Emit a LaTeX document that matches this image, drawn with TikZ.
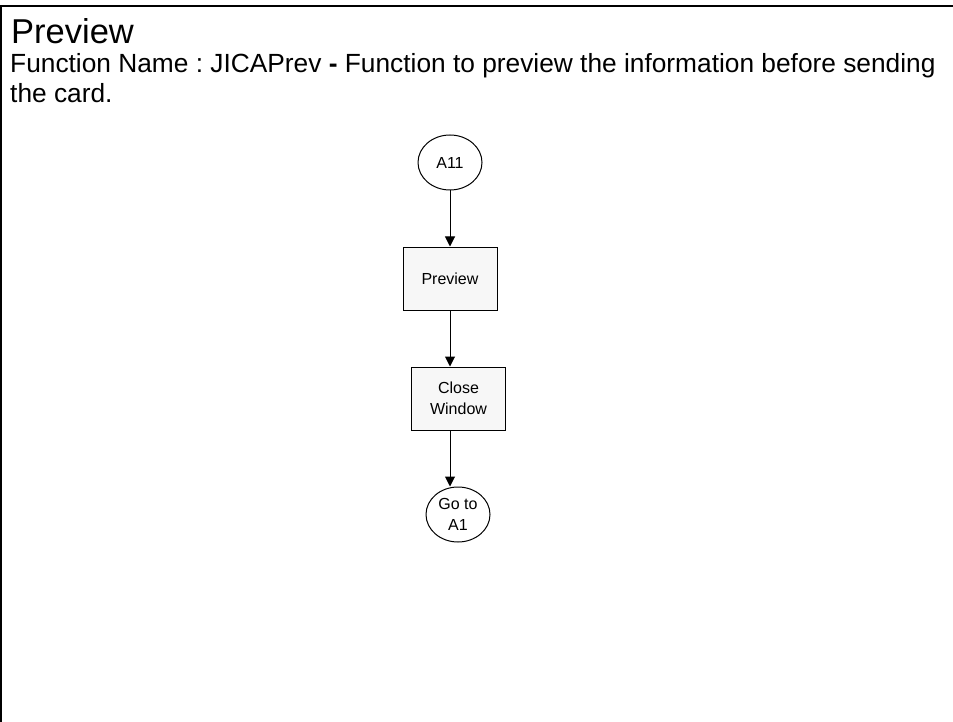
\documentclass[tikz,border=0pt]{standalone}
\usepackage{fontspec}
\setmainfont{Liberation Sans}
\usetikzlibrary{shapes.geometric,arrows.meta}
\definecolor{boxfill}{HTML}{F7F7F7}
\frenchspacing
\tikzset{
  flowarrow/.style={draw=black,line width=1pt,-{Triangle[length=10pt,width=10pt]}},
  termnode/.style={ellipse,draw=black,line width=1pt,fill=white,minimum width=64pt,minimum height=55pt,inner sep=0pt,align=center,font=\fontsize{16}{21}\selectfont},
  procbox/.style={rectangle,draw=black,line width=1pt,fill=boxfill,minimum width=94pt,minimum height=63pt,inner sep=0pt,align=center,font=\fontsize{16}{21}\selectfont},
  headtext/.style={anchor=base west,inner sep=0pt}
}
\begin{document}
\begin{tikzpicture}[x=1pt,y=-1pt]
\useasboundingbox (0,0) rectangle (953,722);
\draw[line width=2pt] (1,722) -- (1,6) -- (953,6);
\node[headtext,font=\fontsize{34.5}{40}\selectfont] (title) at (11,44) {Preview};
\node[headtext,font=\fontsize{26.3}{30}\selectfont] (desc1) at (10,73) {Function Name : JICAPrev \textbf{-} Function to preview the information before sending};
\node[headtext,font=\fontsize{26.3}{30}\selectfont] (desc2) at (10,103) {the card.};
\node[termnode] (a11) at (450,162.5) {A11};
\node[procbox] (prev) at (450,278.5) {Preview};
\node[procbox] (close) at (458.5,398.5) {Close\\Window};
\node[termnode] (goto) at (458,514.5) {Go to\\A1};
\draw[flowarrow] (a11) -- (prev);
\draw[flowarrow] (prev.south) -- (close.north -| prev.south);
\draw[flowarrow] (close.south -| prev.south) -- (goto.north -| prev.south);
\end{tikzpicture}
\end{document}
